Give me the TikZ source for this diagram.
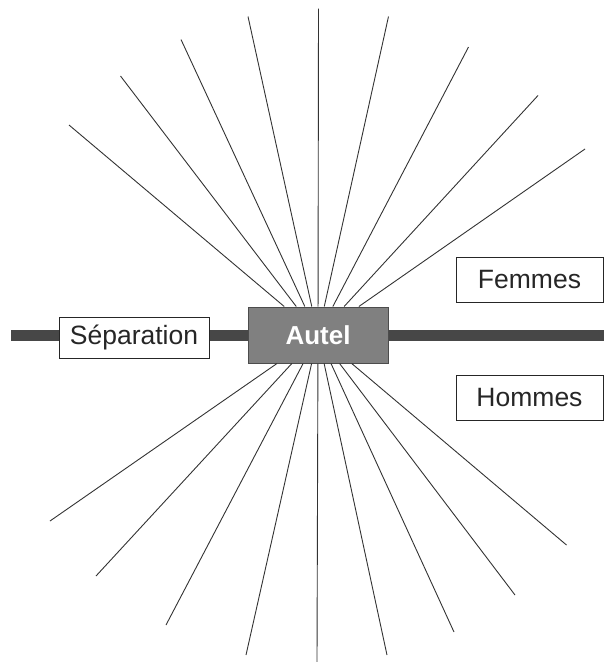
\documentclass[tikz,border=0pt]{standalone}
\usepackage{fontspec}
\setmainfont{Liberation Sans}
\begin{document}
\begin{tikzpicture}[x=1pt,y=-1pt,
  bar/.style={line width=11pt,draw=black!72},
  ray/.style={line width=0.9pt,draw=black!80},
  label/.style={draw=black!85,line width=0.9pt,fill=white,inner sep=0pt,
    font=\fontsize{26.5}{29}\selectfont,text=black!85},
  altar/.style={draw=black!70,line width=1pt,fill=black!50,inner sep=0pt,
    minimum width=140pt,minimum height=56pt,
    font=\fontsize{26}{29}\selectfont\bfseries,text=white}]
\useasboundingbox (0,0) rectangle (604,662);
% separation bar
\coordinate (barL) at (11,335.5);
\coordinate (barR) at (606,335.5);
\draw[bar] (barL) -- (barR);
% boxes
\node[label,minimum width=150pt,minimum height=41pt] (sep) at (134,337.5) {Séparation};
\node[altar] (autel) at (318,335) {Autel};
\node[label,minimum width=147pt,minimum height=45pt] (femmes) at (529.5,280) {Femmes};
\node[label,minimum width=147pt,minimum height=45pt] (hommes) at (529.5,398) {Hommes};
% ray end points
\coordinate (t1) at (69,125);
\coordinate (t2) at (120.5,76);
\coordinate (t3) at (181,39.5);
\coordinate (t4) at (248,16.5);
\coordinate (t5) at (318.5,8.5);
\coordinate (t6) at (388.5,16.5);
\coordinate (t7) at (468.5,47);
\coordinate (t8) at (538,95.5);
\coordinate (t9) at (585,149);
\coordinate (b1) at (50,521);
\coordinate (b2) at (96,576);
\coordinate (b3) at (166,625);
\coordinate (b4) at (246,655);
\coordinate (b5) at (317,662);
\coordinate (b6) at (387,655);
\coordinate (b7) at (454,632);
\coordinate (b8) at (515,595);
\coordinate (b9) at (566.5,545);
\foreach \p in {t1,t2,t3,t4,t5,t6,t7,t8,t9,b1,b2,b3,b4,b5,b6,b7,b8,b9}
  \draw[ray] (autel) -- (\p);
\end{tikzpicture}
\end{document}
